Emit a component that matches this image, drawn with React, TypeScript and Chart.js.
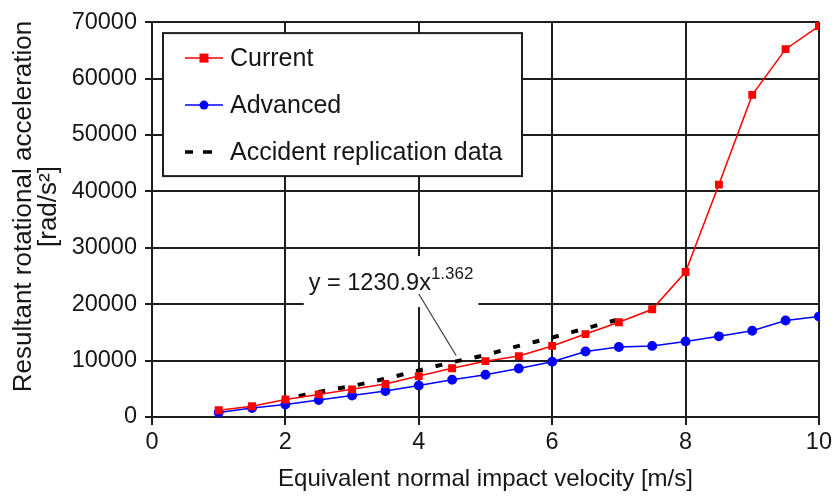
import { useEffect, useRef } from "react";
import { Chart, registerables } from "chart.js";

Chart.register(...registerables);

// Impact velocity steps [m/s]
const velocity = [1, 1.5, 2, 2.5, 3, 3.5, 4, 4.5, 5, 5.5, 6, 6.5, 7, 7.5, 8, 8.5, 9, 9.5, 10];
// Resultant rotational acceleration [rad/s²]
const currentAccel = [1200, 1900, 3100, 4000, 4900, 5850, 7250, 8650, 9900, 10800, 12600, 14700, 16800, 19100, 25700, 41200, 57100, 65200, 69300];
const advancedAccel = [800, 1600, 2200, 3000, 3800, 4600, 5600, 6600, 7500, 8600, 9800, 11600, 12400, 12600, 13400, 14300, 15300, 17100, 17800];
// Accident replication fit
const accidentVelocity = [2.2, 2.5, 3, 3.5, 4, 4.5, 5, 5.5, 6, 6.5, 7, 7.1];
const accidentAccel = [3700, 4450, 5500, 6800, 8250, 9700, 11000, 12600, 14100, 15700, 17300, 17600];

const xTicks = [0, 2, 4, 6, 8, 10];
const yTicks = [0, 10000, 20000, 30000, 40000, 50000, 60000, 70000];

const yTitleLines = ["Resultant rotational acceleration", "[rad/s²]"];

const FONT = "'Liberation Sans', Arial, sans-serif";
const TEXT = "#161616";
const GRID = "#1e1e1e";

const pairs = (xs: number[], ys: number[]) => xs.map((x, i) => ({ x, y: ys[i] }));

const fitLabelPlugin = {
  id: "fitLabel",
  afterDatasetsDraw(chart: any) {
    const { ctx, scales } = chart;
    const xs = scales.x;
    const ys = scales.y;
    const tx = xs.getPixelForValue(2.35);
    const ty = ys.getPixelForValue(22500);
    ctx.save();
    ctx.font = `23.5px ${FONT}`;
    const main = "y = 1230.9x";
    const mw = ctx.measureText(main).width;
    ctx.font = `17px ${FONT}`;
    const sup = "1.362";
    const sw = ctx.measureText(sup).width;
    ctx.fillStyle = "#ffffff";
    ctx.fillRect(tx - 5, ty - 34, mw + sw + 10, 51);
    // leader line to the fitted curve
    ctx.strokeStyle = "#3a3a3a";
    ctx.lineWidth = 1.2;
    ctx.beginPath();
    ctx.moveTo(xs.getPixelForValue(4.0), ys.getPixelForValue(21800));
    ctx.lineTo(xs.getPixelForValue(4.56), ys.getPixelForValue(10900));
    ctx.stroke();
    ctx.fillStyle = TEXT;
    ctx.textBaseline = "alphabetic";
    ctx.textAlign = "left";
    ctx.font = `23.5px ${FONT}`;
    ctx.fillText(main, tx, ty);
    ctx.font = `17px ${FONT}`;
    ctx.fillText(sup, tx + mw, ty - 11);
    ctx.restore();
  },
};

const yTitlePlugin = {
  id: "yTitle",
  afterDraw(chart: any) {
    const { ctx, chartArea } = chart;
    const cy = (chartArea.top + chartArea.bottom) / 2 - 13;
    ctx.save();
    ctx.fillStyle = TEXT;
    ctx.font = `26px ${FONT}`;
    ctx.textAlign = "center";
    ctx.textBaseline = "middle";
    yTitleLines.forEach((line, i) => {
      ctx.save();
      ctx.translate(24 + i * 25, cy);
      ctx.rotate(-Math.PI / 2);
      ctx.fillText(line, 0, 0);
      ctx.restore();
    });
    ctx.restore();
  },
};

const legendBoxPlugin = {
  id: "legendBox",
  afterDraw(chart: any) {
    const { ctx, chartArea } = chart;
    const left = chartArea.left + 11;
    const top = chartArea.top + 11;
    const w = 359;
    const h = 143;
    ctx.save();
    ctx.fillStyle = "#ffffff";
    ctx.fillRect(left, top, w, h);
    ctx.strokeStyle = GRID;
    ctx.lineWidth = 2;
    ctx.strokeRect(left, top, w, h);
    const rows = [25, 72, 119];
    const lx0 = left + 22;
    const lx1 = left + 60;
    const cx = (lx0 + lx1) / 2;
    chart.data.datasets.forEach((ds: any, i: number) => {
      const y = top + rows[i];
      ctx.strokeStyle = ds.borderColor;
      ctx.lineWidth = ds.borderWidth;
      if (ds.borderDash && ds.borderDash.length) {
        ctx.lineWidth = 3.5;
        ctx.beginPath();
        ctx.moveTo(lx0, y);
        ctx.lineTo(lx0 + 8, y);
        ctx.moveTo(lx0 + 18, y);
        ctx.lineTo(lx0 + 27, y);
        ctx.stroke();
      } else {
        ctx.beginPath();
        ctx.moveTo(lx0, y);
        ctx.lineTo(lx1, y);
        ctx.stroke();
        ctx.fillStyle = ds.pointBackgroundColor;
        if (ds.pointStyle === "rect") {
          ctx.fillRect(cx - 4.5, y - 4.5, 9, 9);
        } else {
          ctx.beginPath();
          ctx.arc(cx, y, 4.5, 0, Math.PI * 2);
          ctx.fill();
        }
      }
      ctx.fillStyle = TEXT;
      ctx.font = `25px ${FONT}`;
      ctx.textBaseline = "middle";
      ctx.textAlign = "left";
      ctx.fillText(ds.label, left + 67, y + 1);
    });
    ctx.restore();
  },
};

export default function App() {
  const canvasRef = useRef<HTMLCanvasElement | null>(null);

  useEffect(() => {
    document.body.style.margin = "0";
    const canvas = canvasRef.current;
    if (!canvas) return;
    const chart = new Chart(canvas, {
      type: "line",
      data: {
        datasets: [
          {
            label: "Current",
            data: pairs(velocity, currentAccel),
            borderColor: "#ff0000",
            backgroundColor: "#ff0000",
            pointBackgroundColor: "#ff0000",
            pointBorderColor: "#ff0000",
            pointStyle: "rect",
            pointRadius: 4.5,
            borderWidth: 1.5,
          },
          {
            label: "Advanced",
            data: pairs(velocity, advancedAccel),
            borderColor: "#0000ff",
            backgroundColor: "#0000ff",
            pointBackgroundColor: "#0000ff",
            pointBorderColor: "#0000ff",
            pointStyle: "circle",
            pointRadius: 4.2,
            borderWidth: 1.5,
          },
          {
            label: "Accident replication data",
            data: pairs(accidentVelocity, accidentAccel),
            borderColor: "#000000",
            backgroundColor: "#000000",
            pointRadius: 0,
            borderWidth: 4,
            borderDash: [7, 13],
            cubicInterpolationMode: "monotone",
          },
        ],
      },
      options: {
        animation: false,
        responsive: true,
        maintainAspectRatio: false,
        layout: { padding: { top: 20, right: 15, left: 0, bottom: 0 } },
        plugins: {
          legend: { display: false },
          tooltip: { enabled: false },
        },
        scales: {
          x: {
            type: "linear",
            min: 0,
            max: 10,
            afterBuildTicks: (s: any) => {
              s.ticks = xTicks.map((v) => ({ value: v }));
            },
            afterFit: (s: any) => {
              s.height = 80;
            },
            ticks: {
              color: TEXT,
              font: { family: FONT, size: 23.5 },
              padding: 3,
              maxRotation: 0,
              callback: (v: any) => String(v),
            },
            grid: { color: GRID, lineWidth: 2, tickLength: 8 },
            border: { color: GRID, width: 2 },
            title: {
              display: true,
              text: "Equivalent normal impact velocity [m/s]",
              color: TEXT,
              font: { family: FONT, size: 24 },
              padding: { top: 0, bottom: 3 },
            },
          },
          y: {
            min: 0,
            max: 70000,
            afterBuildTicks: (s: any) => {
              s.ticks = yTicks.map((v) => ({ value: v }));
            },
            afterFit: (s: any) => {
              s.width = 152;
            },
            ticks: {
              color: TEXT,
              font: { family: FONT, size: 23.5 },
              padding: 8,
              callback: (v: any) => String(v),
            },
            grid: { color: GRID, lineWidth: 2, tickLength: 7 },
            border: { color: GRID, width: 2 },
          },
        },
      },
      plugins: [fitLabelPlugin, legendBoxPlugin, yTitlePlugin],
    } as any);
    return () => chart.destroy();
  }, []);

  return (
    <div style={{ position: "relative", width: 835, height: 497 }}>
      <canvas ref={canvasRef} />
    </div>
  );
}
